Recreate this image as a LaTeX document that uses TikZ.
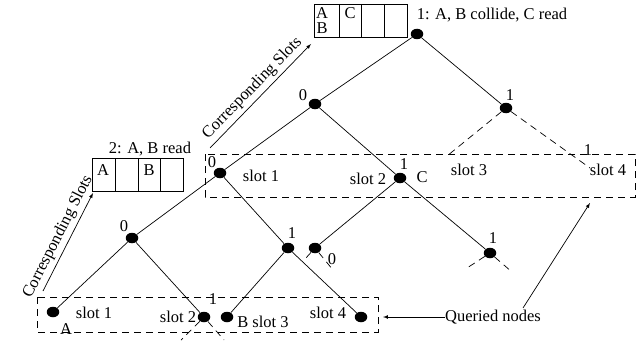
\documentclass[tikz,border=0pt]{standalone}
\usepackage{fontspec}
\setmainfont{Liberation Serif}
\usetikzlibrary{arrows,shapes,positioning}

\tikzset{
  dot/.style={ellipse,fill=black,inner sep=0pt,minimum width=12.5pt,minimum height=10.5pt},
  lbl/.style={inner sep=0pt},
  qbox/.style={dash pattern=on 7pt off 5pt},
  stub/.style={dash pattern=on 7pt off 5pt}
}

\begin{document}
\begin{tikzpicture}[x=1pt,y=-1pt,font=\fontsize{16.5}{19}\selectfont,line width=0.7pt]
\useasboundingbox (0,0) rectangle (644,345);
% registers
\draw (314,4) rectangle (407,37);
\foreach \x in {339,361,384} \draw (\x,4)--(\x,37);
\node[lbl] (ra) at (322,13) {A};
\node[lbl] (rb) at (322,28) {B};
\node[lbl] (rc) at (350,13) {C};
\node[lbl] (r1) at (492,15) {1: A, B collide, C read};
\draw (92,158) rectangle (183,191);
\foreach \x in {115,138,160} \draw (\x,158)--(\x,191);
\node[lbl] (sa) at (103,170) {A};
\node[lbl] (sb) at (149,170) {B};
\node[lbl] (r2) at (150,149) {2: A, B read};
% queried boxes
\draw[qbox] (205,154) rectangle (635,197);
\draw[qbox] (37,297) rectangle (378,332);
% tree
\node[dot] (root) at (417,34) {};
\node[dot] (n0) at (315,104) {};
\node[dot] (n1) at (506,108) {};
\node[dot] (n00) at (220,173) {};
\node[dot] (n01) at (400,178) {};
\node[dot] (n000) at (132,238) {};
\node[dot] (n001) at (288,248) {};
\node[dot] (n010) at (315,248) {};
\node[dot] (n011) at (490,253) {};
\node[dot] (n0000) at (53,312) {};
\node[dot] (n0001) at (204,317) {};
\node[dot] (n0010) at (227,317) {};
\node[dot] (n0011) at (361,317) {};
\coordinate (n10) at (447,156);
\coordinate (n11) at (590,168);
\draw (root)--(n0) (root)--(n1);
\draw (n0)--(n00) (n0)--(n01);
\draw (n00)--(n000) (n00)--(n001);
\draw (n01)--(n010) (n01)--(n011);
\draw (n000)--(n0000) (n000)--(n0001);
\draw (n001)--(n0010) (n001)--(n0011);
\draw[stub] (n1)--(n10) (n1)--(n11);
\draw[stub] (n010)--(305,259) (n010)--(333,270);
\draw[stub] (n011)--(467,268) (n011)--(512,272);
\draw[stub] (n0001)--(181,340) (n0001)--(224,340);
% labels
\node[lbl] (b0) at (303,95) {0};
\node[lbl] (b1) at (510,95) {1};
\node[lbl] (b00) at (212,162) {0};
\node[lbl] (s00) at (261,176) {slot 1};
\node[lbl] (b01) at (404,164) {1};
\node[lbl] (c01) at (422,177) {C};
\node[lbl] (s01) at (368,179) {slot 2};
\node[lbl] (s10) at (469,170) {slot 3};
\node[lbl] (b11) at (588,150) {1};
\node[lbl] (s11) at (608,170) {slot 4};
\node[lbl] (b000) at (124,226) {0};
\node[lbl] (b001) at (292,233) {1};
\node[lbl] (b010) at (332,259) {0};
\node[lbl] (b011) at (493,238) {1};
\node[lbl] (a0000) at (66,329) {A};
\node[lbl] (s0000) at (94,313) {slot 1};
\node[lbl] (b0001) at (213,299) {1};
\node[lbl] (s0001) at (178,317) {slot 2};
\node[lbl] (s0010) at (263,322) {B slot 3};
\node[lbl] (s0011) at (328,313) {slot 4};
% arrows
\coordinate (c1) at (210,148);
\coordinate (c2) at (311,44);
\draw[-latex] (c1)--(c2) node[midway,above,sloped]{Corresponding Slots};
\coordinate (c3) at (43,291);
\coordinate (c4) at (93,193);
\draw[-latex] (c3)--(c4) node[midway,above,sloped]{Corresponding Slots};
\node[lbl] (q) at (493,317) {Queried nodes};
\coordinate (qlow) at (383,317);
\coordinate (qfrom) at (523,308);
\coordinate (qup) at (590,203);
\draw[-latex] (q.west)--(qlow);
\draw[-latex] (qfrom)--(qup);
\end{tikzpicture}
\end{document}
